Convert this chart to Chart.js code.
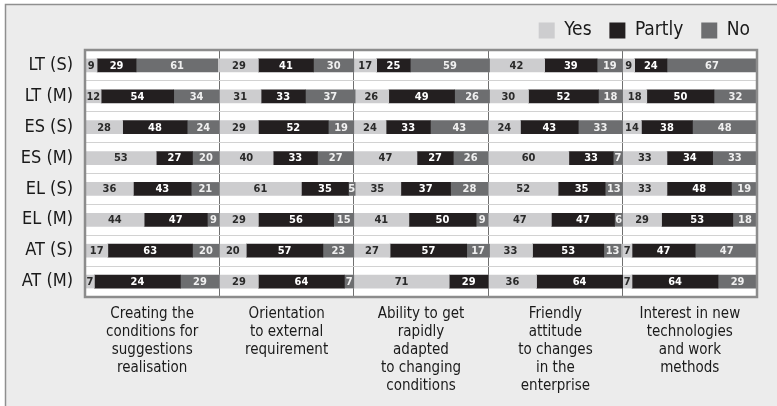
<!DOCTYPE html>
<html lang="en">
<head>
<meta charset="UTF-8">
<title>Innovation attitudes</title>
<script src="https://cdn.jsdelivr.net/npm/chart.js"></script>
<style>
    body { margin: 0; background: #fff; }
    #wrap { width: 777px; height: 406px; position: relative; }
</style>
</head>
<body>
<div id="wrap"><canvas id="myChart"></canvas></div>
<script>
    const rows = ['LT (S)', 'LT (M)', 'ES (S)', 'ES (M)', 'EL (S)', 'EL (M)', 'AT (S)', 'AT (M)'];

    const panels = [
        ['Creating the', 'conditions for', 'suggestions', 'realisation'],
        ['Orientation', 'to external', 'requirement'],
        ['Ability to get', 'rapidly', 'adapted', 'to changing', 'conditions'],
        ['Friendly', 'attitude', 'to changes', 'in the', 'enterprise'],
        ['Interest in new', 'technologies', 'and work', 'methods']
    ];

    // one array per panel, rows in the order above
    const yesValues = [
        [9, 12, 28, 53, 36, 44, 17, 7],
        [29, 31, 29, 40, 61, 29, 20, 29],
        [17, 26, 24, 47, 35, 41, 27, 71],
        [42, 30, 24, 60, 52, 47, 33, 36],
        [9, 18, 14, 33, 33, 29, 7, 7]
    ];
    const partlyValues = [
        [29, 54, 48, 27, 43, 47, 63, 64],
        [41, 33, 52, 33, 35, 56, 57, 64],
        [25, 49, 33, 27, 37, 50, 57, 29],
        [39, 52, 43, 33, 35, 47, 53, 64],
        [24, 50, 38, 34, 48, 53, 47, 64]
    ];
    const noValues = [
        [61, 34, 24, 20, 21, 9, 20, 29],
        [30, 37, 19, 27, 5, 15, 23, 7],
        [59, 26, 43, 26, 28, 9, 17, 0],
        [19, 18, 33, 7, 13, 6, 13, 0],
        [67, 32, 48, 33, 19, 18, 47, 29]
    ];
    // the source prints "24" on the AT (M) bar of the first panel, though the bar is drawn as 64
    const printedAs = { 'Partly|0|7': '24' };

    const series = [
        { name: 'Yes', values: yesValues, color: '#cdcdcf', text: '#2a2a2a' },
        { name: 'Partly', values: partlyValues, color: '#231f20', text: '#ffffff' },
        { name: 'No', values: noValues, color: '#6d6e70', text: '#f0f0f0' }
    ];

    const FONT = '"Liberation Sans Narrow", "DejaVu Sans Condensed", sans-serif';

    const datasets = [];
    panels.forEach((p, pi) => {
        series.forEach((s, si) => {
            datasets.push({
                label: s.name,
                panel: pi,
                values: s.values[pi],
                textColor: s.text,
                data: rows.map((r, ri) => {
                    let start = pi * 100;
                    for (let k = 0; k < si; k++) start += series[k].values[pi][ri];
                    return [start, start + s.values[pi][ri]];
                }),
                backgroundColor: s.color,
                borderWidth: 0,
                barThickness: 13,
                grouped: false
            });
        });
    });

    const framePlugin = {
        id: 'frame',
        beforeDraw(chart) {
            const c = chart.ctx, a = chart.chartArea;
            c.save();
            c.fillStyle = '#ffffff';
            c.fillRect(0, 0, chart.width, chart.height);
            c.fillStyle = '#ececec';
            c.fillRect(5, 4, chart.width, chart.height);
            c.strokeStyle = '#8f8f8f';
            c.lineWidth = 1.5;
            c.beginPath();
            c.moveTo(5.5, chart.height);
            c.lineTo(5.5, 4.5);
            c.lineTo(chart.width, 4.5);
            c.stroke();
            c.fillStyle = '#ffffff';
            c.fillRect(a.left, a.top, a.right - a.left, a.bottom - a.top);
            c.restore();
        },
        afterDatasetsDraw(chart) {
            const c = chart.ctx, a = chart.chartArea;
            c.save();
            c.font = 'bold 11px ' + FONT;
            c.textAlign = 'center';
            c.textBaseline = 'middle';
            chart.data.datasets.forEach((ds, di) => {
                const meta = chart.getDatasetMeta(di);
                meta.data.forEach((bar, i) => {
                    const v = ds.values[i];
                    if (!v) return;
                    const txt = printedAs[ds.label + '|' + ds.panel + '|' + i] || String(v);
                    c.fillStyle = ds.textColor;
                    c.fillText(txt, (bar.x + bar.base) / 2, bar.y + 0.5);
                });
            });
            c.strokeStyle = '#8c8c8c';
            c.lineWidth = 2.5;
            c.strokeRect(a.left, a.top, a.right - a.left, a.bottom - a.top);
            c.restore();
        }
    };

    new Chart(document.getElementById('myChart'), {
        type: 'bar',
        data: { labels: rows, datasets: datasets },
        options: {
            indexAxis: 'y',
            responsive: true,
            maintainAspectRatio: false,
            animation: false,
            layout: { padding: { top: 14, right: 20, left: 0, bottom: 0 } },
            plugins: {
                tooltip: { enabled: false },
                legend: {
                    position: 'top',
                    align: 'end',
                    labels: {
                        boxWidth: 16,
                        boxHeight: 16,
                        padding: 7,
                        color: '#1a1a1a',
                        font: { family: FONT, size: 19, lineHeight: 1 },
                        // only the first panel's three series go in the key; extra gap after the first two
                        generateLabels: chart => Chart.defaults.plugins.legend.labels.generateLabels(chart)
                            .filter(item => item.datasetIndex < 3)
                            .map((item, i) => Object.assign(item, { text: item.text + (i < 2 ? '  ' : '') }))
                    }
                }
            },
            scales: {
                x: {
                    min: 0,
                    max: 500,
                    afterBuildTicks: s => {
                        s.ticks = [0, 50, 100, 150, 200, 250, 300, 350, 400, 450, 500].map(v => ({ value: v }));
                    },
                    afterFit: s => { s.height = 109; },
                    ticks: {
                        autoSkip: false,
                        maxRotation: 0,
                        padding: 8,
                        color: '#1a1a1a',
                        font: { family: FONT, size: 15, lineHeight: 1.2 },
                        callback: v => (v % 100 === 50 ? panels[(v - 50) / 100] : '')
                    },
                    grid: {
                        drawTicks: false,
                        color: c => (c.tick && c.tick.value % 100 === 0 ? '#707070' : 'rgba(0,0,0,0)')
                    },
                    border: { display: false }
                },
                y: {
                    afterFit: s => { s.width = 85; },
                    ticks: {
                        padding: 12,
                        color: '#1a1a1a',
                        font: { family: FONT, size: 18 }
                    },
                    grid: { drawTicks: false, color: '#d2d2d2' },
                    border: { display: false }
                }
            }
        },
        plugins: [framePlugin]
    });
</script>
</body>
</html>
